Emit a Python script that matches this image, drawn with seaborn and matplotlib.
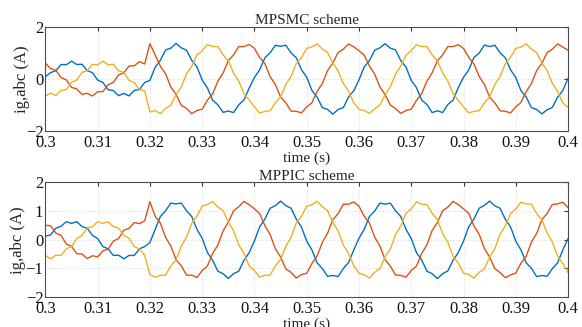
import numpy as np
import pandas as pd
import matplotlib
matplotlib.use("Agg")
import matplotlib.pyplot as plt
import seaborn as sns

# time axis, 1 ms sampling 0.30 .. 0.40 s
t = np.linspace(0.3, 0.4, 101)

# MPSMC scheme, grid currents (A)
mpsmc_a = [0.08, 0.24, 0.31, 0.55, 0.54, 0.68, 0.55, 0.56, 0.31, 0.24,
           -0.05, -0.14, -0.42, -0.45, -0.65, -0.56, -0.66, -0.45, -0.41, -0.14,
           -0.06, 0.45, 0.71, 1.11, 1.18, 1.36, 1.19, 1.10, 0.71, 0.46,
           -0.05, -0.35, -0.82, -1.00, -1.29, -1.24, -1.30, -1.00, -0.81, -0.35,
           0.05, 0.35, 0.81, 1.00, 1.29, 1.25, 1.29, 1.00, 0.81, 0.35,
           0.06, -0.45, -0.71, -1.11, -1.18, -1.36, -1.18, -1.11, -0.70, -0.46,
           -0.04, 0.46, 0.70, 1.10, 1.19, 1.35, 1.18, 1.11, 0.70, 0.45,
           -0.06, -0.34, -0.82, -0.99, -1.30, -1.23, -1.30, -0.99, -0.82, -0.34,
           0.06, 0.34, 0.82, 0.99, 1.30, 1.24, 1.29, 1.00, 0.81, 0.35,
           0.05, -0.46, -0.70, -1.11, -1.18, -1.35, -1.19, -1.10, -0.71, -0.45,
           0.02]
mpsmc_b = [0.60, 0.39, 0.33, 0.05, -0.04, -0.33, -0.39, -0.60, -0.56, -0.66,
           -0.50, -0.49, -0.23, -0.14, 0.15, 0.23, 0.49, 0.50, 0.66, 0.57,
           1.35, 0.92, 0.48, 0.19, -0.32, -0.60, -1.02, -1.14, -1.34, -1.22,
           -1.17, -0.82, -0.58, -0.09, 0.22, 0.70, 0.92, 1.24, 1.24, 1.32,
           1.17, 0.82, 0.58, 0.08, -0.22, -0.70, -0.92, -1.24, -1.25, -1.31,
           -1.08, -0.92, -0.48, -0.18, 0.32, 0.61, 1.01, 1.14, 1.34, 1.23,
           1.08, 0.91, 0.49, 0.18, -0.31, -0.61, -1.01, -1.15, -1.33, -1.22,
           -1.17, -0.83, -0.57, -0.09, 0.23, 0.69, 0.92, 1.24, 1.24, 1.31,
           1.17, 0.83, 0.57, 0.09, -0.22, -0.70, -0.93, -1.23, -1.25, -1.31,
           -1.08, -0.91, -0.49, -0.18, 0.32, 0.60, 1.01, 1.14, 1.34, 1.22,
           1.10]
mpsmc_c = [-0.66, -0.55, -0.64, -0.45, -0.42, -0.13, -0.05, 0.25, 0.31, 0.56,
           0.53, 0.68, 0.54, 0.56, 0.31, 0.25, -0.06, -0.14, -0.42, -0.46,
           -1.28, -1.22, -1.34, -1.14, -1.02, -0.60, -0.32, 0.19, 0.48, 0.92,
           1.08, 1.32, 1.24, 1.24, 0.92, 0.70, 0.22, -0.09, -0.58, -0.82,
           -1.08, -1.32, -1.25, -1.23, -0.92, -0.70, -0.22, 0.09, 0.58, 0.82,
           1.17, 1.23, 1.34, 1.14, 1.01, 0.61, 0.31, -0.18, -0.48, -0.92,
           -1.17, -1.22, -1.33, -1.15, -1.01, -0.61, -0.31, 0.18, 0.49, 0.91,
           1.08, 1.31, 1.24, 1.24, 0.92, 0.69, 0.23, -0.09, -0.57, -0.83,
           -1.08, -1.31, -1.25, -1.23, -0.93, -0.70, -0.22, 0.09, 0.58, 0.83,
           1.17, 1.22, 1.34, 1.14, 1.01, 0.60, 0.32, -0.18, -0.48, -0.92,
           -1.10]

# MPPIC scheme
mppic_a = [0.12, 0.17, 0.40, 0.47, 0.63, 0.57, 0.63, 0.46, 0.40, 0.15,
           0.04, -0.24, -0.32, -0.55, -0.54, -0.67, -0.55, -0.55, -0.32, -0.24,
           -0.10, 0.36, 0.81, 1.01, 1.28, 1.25, 1.28, 1.01, 0.81, 0.36,
           0.05, -0.45, -0.72, -1.10, -1.19, -1.35, -1.19, -1.10, -0.72, -0.45,
           -0.04, 0.45, 0.72, 1.10, 1.19, 1.35, 1.19, 1.10, 0.72, 0.44,
           -0.05, -0.36, -0.81, -1.01, -1.28, -1.25, -1.29, -1.01, -0.80, -0.36,
           0.05, 0.36, 0.81, 1.00, 1.28, 1.24, 1.28, 1.01, 0.81, 0.36,
           0.04, -0.45, -0.71, -1.10, -1.19, -1.36, -1.19, -1.09, -0.72, -0.45,
           -0.05, 0.45, 0.72, 1.10, 1.20, 1.35, 1.18, 1.10, 0.71, 0.45,
           -0.05, -0.36, -0.81, -1.00, -1.29, -1.25, -1.28, -1.01, -0.81, -0.36,
           0.04]
mppic_b = [0.50, 0.49, 0.23, 0.15, -0.15, -0.23, -0.49, -0.50, -0.66, -0.56,
           -0.60, -0.39, -0.33, -0.05, 0.04, 0.33, 0.39, 0.60, 0.56, 0.66,
           1.33, 0.82, 0.58, 0.08, -0.22, -0.70, -0.91, -1.24, -1.24, -1.32,
           -1.08, -0.92, -0.48, -0.19, 0.31, 0.61, 1.01, 1.15, 1.34, 1.22,
           1.08, 0.91, 0.49, 0.18, -0.32, -0.60, -1.02, -1.14, -1.34, -1.22,
           -1.17, -0.83, -0.57, -0.09, 0.23, 0.70, 0.91, 1.24, 1.24, 1.32,
           1.17, 0.82, 0.58, 0.09, -0.22, -0.70, -0.92, -1.23, -1.25, -1.31,
           -1.08, -0.92, -0.48, -0.18, 0.32, 0.60, 1.01, 1.14, 1.34, 1.23,
           1.08, 0.92, 0.48, 0.19, -0.31, -0.61, -1.01, -1.15, -1.33, -1.23,
           -1.17, -0.82, -0.58, -0.08, 0.22, 0.70, 0.92, 1.23, 1.25, 1.31,
           1.12]
mppic_c = [-0.55, -0.67, -0.54, -0.55, -0.32, -0.24, 0.04, 0.15, 0.41, 0.46,
           0.63, 0.57, 0.63, 0.46, 0.40, 0.15, 0.05, -0.24, -0.32, -0.55,
           -1.22, -1.31, -1.25, -1.23, -0.92, -0.70, -0.23, 0.09, 0.57, 0.83,
           1.17, 1.23, 1.33, 1.14, 1.02, 0.61, 0.32, -0.18, -0.48, -0.92,
           -1.08, -1.31, -1.24, -1.24, -0.92, -0.69, -0.23, 0.08, 0.58, 0.82,
           1.17, 1.22, 1.34, 1.15, 1.01, 0.61, 0.31, -0.19, -0.48, -0.91,
           -1.17, -1.23, -1.34, -1.14, -1.01, -0.60, -0.32, 0.18, 0.48, 0.92,
           1.08, 1.32, 1.24, 1.23, 0.92, 0.70, 0.22, -0.09, -0.58, -0.82,
           -1.17, -1.22, -1.34, -1.14, -1.02, -0.61, -0.31, 0.19, 0.48, 0.91,
           1.08, 1.31, 1.25, 1.24, 0.91, 0.70, 0.23, -0.08, -0.57, -0.83,
           -1.15]

xticks = [0.3, 0.31, 0.32, 0.33, 0.34, 0.35, 0.36, 0.37, 0.38, 0.39, 0.4]
xtick_labels = ["0.3", "0.31", "0.32", "0.33", "0.34", "0.35", "0.36", "0.37", "0.38", "0.39", "0.4"]

colors = ["#0072BD", "#D95319", "#EDB120"]

sns.set_theme(style="white")
plt.rcParams['font.family'] = ['Liberation Serif', 'DejaVu Serif']
plt.rcParams['xtick.direction'] = 'in'
plt.rcParams['ytick.direction'] = 'in'

fig = plt.figure(figsize=(5.82, 3.27), dpi=100)
ax1 = fig.add_axes([0.078, 0.600, 0.898, 0.318])
ax2 = fig.add_axes([0.078, 0.092, 0.898, 0.350])


def draw_panel(ax, series, title, yticks, ylpad):
    for vals, c in zip(series, colors):
        sns.lineplot(x=t, y=vals, ax=ax, color=c, linewidth=1.0, estimator=None, sort=False)
    ax.set_xlim(0.3, 0.4)
    ax.set_ylim(-2, 2)
    ax.set_xticks(xticks)
    ax.set_xticklabels(xtick_labels)
    ax.set_yticks(yticks)
    ax.grid(True, linestyle=(0, (1, 2)), color='#cfcfcf', linewidth=0.6)
    ax.tick_params(axis='both', labelsize=12, colors='#333333', labelcolor='#111111',
                   length=3, width=0.8, top=True, right=True)
    ax.tick_params(axis='x', pad=3)
    ax.tick_params(axis='y', pad=1.5)
    for s in ax.spines.values():
        s.set_color('#4d4d4d')
        s.set_linewidth(0.8)
    ax.set_title(title, fontsize=11, pad=2)
    ax.set_xlabel('time (s)', fontsize=11, labelpad=0.5)
    ax.set_ylabel('ig,abc (A)', fontsize=12, labelpad=ylpad)


draw_panel(ax1, [mpsmc_a, mpsmc_b, mpsmc_c], 'MPSMC scheme', [-2, 0, 2], -3)
draw_panel(ax2, [mppic_a, mppic_b, mppic_c], 'MPPIC scheme', [-2, -1, 0, 1, 2], -0.5)

fig.savefig('out.png', dpi=100)
